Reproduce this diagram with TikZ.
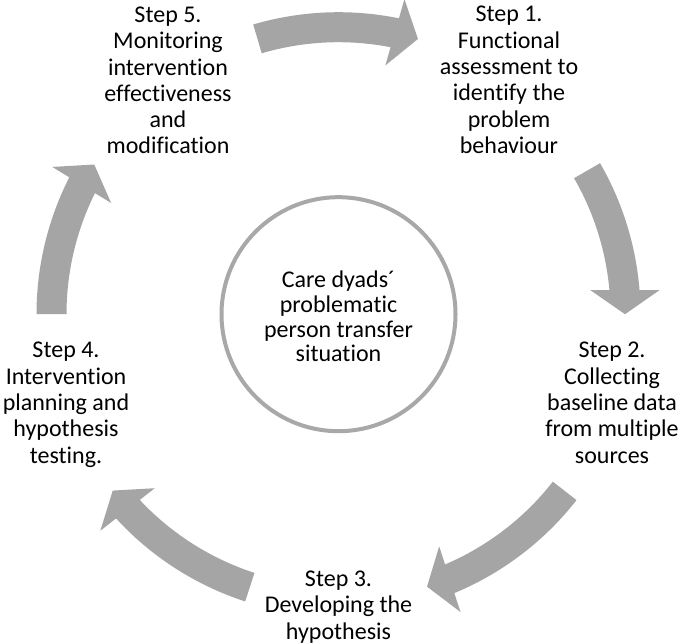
\documentclass[tikz,border=0pt]{standalone}
\usepackage{fontspec}
\setmainfont[Ligatures=NoCommon]{Carlito}
\usetikzlibrary{calc}
\definecolor{arrowgray}{HTML}{A5A5A5}
\definecolor{ringgray}{HTML}{A8A8A8}
\tikzset{
  cyclearrowfill/.style={fill=arrowgray},
  steptext/.style={anchor=base, align=center, inner sep=0pt, text=black,
    font=\fontsize{24}{26.3}\selectfont},
  centertext/.style={anchor=base, align=center, inner sep=0pt, text=black,
    font=\fontsize{24}{24.7}\selectfont},
  ring/.style={draw=ringgray, line width=4pt, fill=white}
}
\newcommand\cyclearrow[2]{%
  \pgfmathsetmacro\arrS{#1}\pgfmathsetmacro\arrT{#2}%
  \pgfmathsetmacro\arrO{#2+4.55}\pgfmathsetmacro\arrHo{#2+4.28}%
  \pgfmathsetmacro\arrHi{#2+5.44}\pgfmathsetmacro\arrI{#2+5.06}%
  \fill[cyclearrowfill] ($(C)+(\arrS:302pt)$)
    arc[start angle=\arrS, end angle=\arrO, radius=302pt]
    -- ($(C)+(\arrHo:321.9pt)$) -- ($(C)+(\arrT:286.5pt)$)
    -- ($(C)+(\arrHi:253.1pt)$) -- ($(C)+(\arrI:272pt)$)
    arc[start angle=\arrI, end angle=\arrS, radius=272pt] -- cycle;}
\begin{document}
\begin{tikzpicture}[x=1pt,y=1pt]
  \fill[white] (0,0) rectangle (685,643);
  \useasboundingbox (0,0) rectangle (685,643);
  \coordinate (C) at (338.5,328.8);
  % arrows
  \cyclearrow{106.4}{73.9}
  \cyclearrow{30}{0}
  \cyclearrow{-38}{-72}
  \cyclearrow{-108}{-142}
  \cyclearrow{180}{148.5}
  % centre circle
  \node[ring, circle, minimum size=234pt, inner sep=0pt] (hub) at (C) {};
  \node[centertext] (hubtext) at (338.5,281) {Care dyads´\\problematic\\person transfer\\situation};
  % steps (anchor base = baseline of last line)
  \node[steptext] (s1) at (509,489.5) {Step 1.\\Functional\\assessment to\\identify the\\problem\\behaviour};
  \node[steptext] (s2) at (612,180) {Step 2.\\Collecting\\baseline data\\from multiple\\sources};
  \node[steptext] (s3) at (338.5,4) {Step 3.\\Developing the\\hypothesis};
  \node[steptext] (s4) at (66,180) {Step 4.\\Intervention\\planning and\\hypothesis\\testing.};
  \node[steptext] (s5) at (168,489) {Step 5.\\Monitoring\\intervention\\effectiveness\\and\\modification};
\end{tikzpicture}
\end{document}
